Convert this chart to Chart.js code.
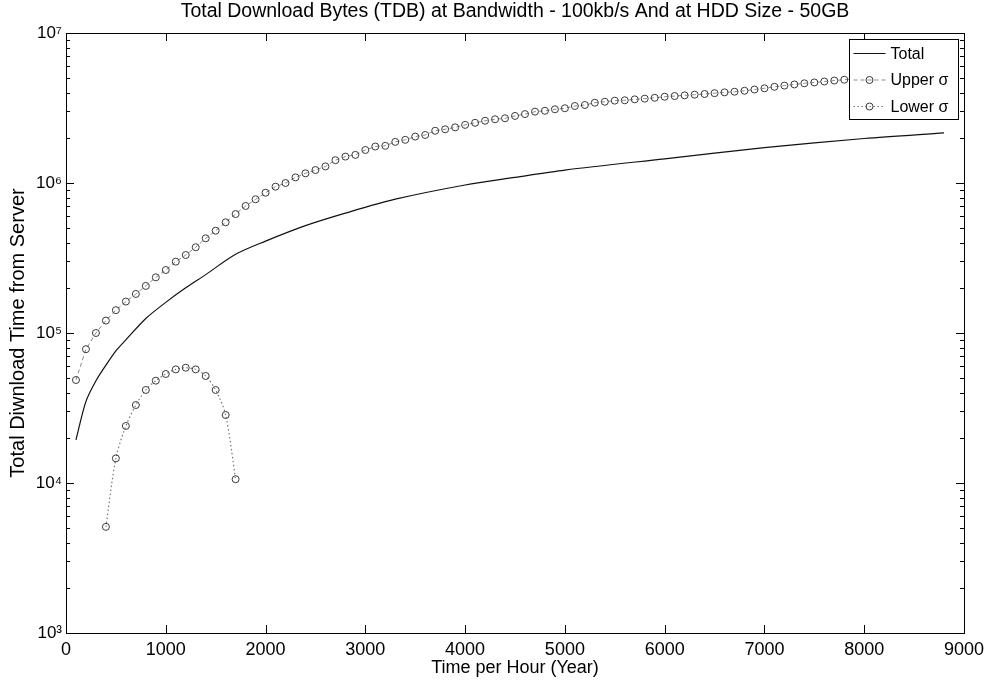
<!DOCTYPE html>
<html>
<head>
<meta charset="utf-8">
<title>Total Download Bytes (TDB)</title>
<script src="https://cdn.jsdelivr.net/npm/chart.js@4/dist/chart.umd.min.js"></script>
<style>
    html, body { margin: 0; padding: 0; background: #fff; }
    canvas { display: block; }
</style>
</head>
<body>
<canvas id="tdb-chart" width="996" height="684"></canvas>
<script>
// TDB chart — bandwidth 100kb/s, HDD 50GB
// values (log y axis)

const TITLE = "Total Download Bytes (TDB) at Bandwidth - 100kb/s And at HDD Size - 50GB";
const X_TITLE = "Time per Hour (Year)";
const Y_TITLE = "Total Diwnload Time from Server";

const X_TICKS = [0, 1000, 2000, 3000, 4000, 5000, 6000, 7000, 8000, 9000];
const Y_TICKS = [1e3, 1e4, 1e5, 1e6, 1e7];
const Y_TICK_LABELS = ["10³", "10⁴", "10⁵", "10⁶", "10⁷"];

// Total (solid line)
const TOTAL_HOURS = [100, 200, 300, 400, 500, 600, 800, 1000, 1200, 1400, 1700, 2000,
    2400, 2800, 3300, 4000, 4500, 5000, 6000, 7000, 8000, 8800];
const TOTAL_VALUES = [1.94e4, 3.5e4, 4.8e4, 6.1e4, 7.6e4, 9.0e4, 1.25e5, 1.6e5, 2.0e5, 2.45e5, 3.35e5, 4.1e5,
    5.2e5, 6.3e5, 7.8e5, 9.7e5, 1.09e6, 1.22e6, 1.45e6, 1.72e6, 1.98e6, 2.16e6];

// Upper sigma (dashed + circles)
const UPPER_HOURS = [100, 200, 300, 400, 500, 600, 700, 800, 900, 1000,
    1100, 1200, 1300, 1400, 1500, 1600, 1700, 1800, 1900, 2000,
    2100, 2200, 2300, 2400, 2500, 2600, 2700, 2800, 2900, 3000,
    3100, 3200, 3300, 3400, 3500, 3600, 3700, 3800, 3900, 4000,
    4100, 4200, 4300, 4400, 4500, 4600, 4700, 4800, 4900, 5000,
    5100, 5200, 5300, 5400, 5500, 5600, 5700, 5800, 5900, 6000,
    6100, 6200, 6300, 6400, 6500, 6600, 6700, 6800, 6900, 7000,
    7100, 7200, 7300, 7400, 7500, 7600, 7700, 7800, 7900, 8000,
    8100, 8200, 8300, 8400, 8500, 8600, 8700, 8800];
const UPPER_VALUES = [4.86e4, 7.8e4, 1.0e5, 1.21e5, 1.42e5, 1.62e5, 1.82e5, 2.06e5, 2.35e5, 2.63e5,
    2.99e5, 3.31e5, 3.73e5, 4.28e5, 4.81e5, 5.47e5, 6.21e5, 7.03e5, 7.79e5, 8.61e5,
    9.45e5, 1.0e6, 1.09e6, 1.16e6, 1.22e6, 1.29e6, 1.42e6, 1.5e6, 1.54e6, 1.66e6,
    1.75e6, 1.77e6, 1.88e6, 1.94e6, 2.04e6, 2.09e6, 2.23e6, 2.28e6, 2.35e6, 2.44e6,
    2.52e6, 2.6e6, 2.66e6, 2.7e6, 2.8e6, 2.88e6, 2.99e6, 3.03e6, 3.1e6, 3.15e6,
    3.26e6, 3.31e6, 3.43e6, 3.48e6, 3.54e6, 3.56e6, 3.61e6, 3.65e6, 3.70e6, 3.76e6,
    3.80e6, 3.84e6, 3.88e6, 3.92e6, 3.97e6, 4.02e6, 4.06e6, 4.12e6, 4.20e6, 4.28e6,
    4.38e6, 4.46e6, 4.54e6, 4.62e6, 4.68e6, 4.75e6, 4.82e6, 4.88e6, 4.95e6, 5.02e6,
    5.08e6, 5.14e6, 5.2e6, 5.26e6, 5.32e6, 5.38e6, 5.44e6, 5.5e6];

// Lower sigma (dotted + circles)
const LOWER_HOURS = [400, 500, 600, 700, 800, 900, 1000, 1100, 1200, 1300, 1400, 1500, 1600, 1700];
const LOWER_VALUES = [5.1e3, 1.46e4, 2.4e4, 3.31e4, 4.17e4, 4.81e4, 5.33e4, 5.72e4, 5.87e4, 5.72e4,
    5.17e4, 4.17e4, 2.84e4, 1.06e4];

const FONT = "'Liberation Sans', Arial, Helvetica, sans-serif";

function toPoints(xs, ys) {
    return xs.map((x, i) => ({ x: x, y: ys[i] }));
}

// ------------------------------------------------------------
// matlab style box, inward ticks, boxed legend
// ------------------------------------------------------------
const matlabFrame = {
    id: "matlabFrame",
    afterDatasetsDraw(chart) {
        const { ctx, chartArea: a, scales: { x, y } } = chart;
        const line = (x1, y1, x2, y2) => {
            ctx.beginPath();
            ctx.moveTo(x1, y1);
            ctx.lineTo(x2, y2);
            ctx.stroke();
        };
        ctx.save();
        ctx.strokeStyle = "#000";
        ctx.lineWidth = 1;
        ctx.strokeRect(Math.round(a.left) + 0.5, Math.round(a.top) + 0.5,
            Math.round(a.width), Math.round(a.height));

        X_TICKS.forEach(v => {
            const px = Math.round(x.getPixelForValue(v)) + 0.5;
            line(px, a.bottom, px, a.bottom - 8);
            line(px, a.top, px, a.top + 8);
        });
        for (let d = 0; d < Y_TICKS.length; d++) {
            const base = Y_TICKS[d];
            const py = Math.round(y.getPixelForValue(base)) + 0.5;
            line(a.left, py, a.left + 8, py);
            line(a.right, py, a.right - 8, py);
            if (d === Y_TICKS.length - 1) break;
            for (let m = 2; m <= 9; m++) {
                const my = Math.round(y.getPixelForValue(base * m)) + 0.5;
                line(a.left, my, a.left + 4, my);
                line(a.right, my, a.right - 4, my);
            }
        }

        // legend box
        const bw = 109, bh = 80;
        const bx = Math.round(a.right - bw - 6) + 0.5;
        const by = Math.round(a.top + 6) + 0.5;
        ctx.fillStyle = "#fff";
        ctx.fillRect(bx, by, bw, bh);
        ctx.strokeRect(bx, by, bw, bh);

        ctx.font = "16px " + FONT;
        ctx.textBaseline = "middle";
        ctx.textAlign = "left";
        chart.data.datasets.forEach((ds, i) => {
            const ry = by + 14 + i * 26.5;
            ctx.strokeStyle = ds.borderColor;
            ctx.lineWidth = ds.borderWidth;
            ctx.setLineDash(ds.borderDash || []);
            line(bx + 4, ry, bx + 36, ry);
            ctx.setLineDash([]);
            if (ds.pointRadius > 0) {
                ctx.strokeStyle = ds.pointBorderColor;
                ctx.lineWidth = 1;
                ctx.beginPath();
                ctx.arc(bx + 20, ry, ds.pointRadius, 0, Math.PI * 2);
                ctx.stroke();
            }
            ctx.fillStyle = "#000";
            ctx.fillText(ds.label, bx + 41, ry + 1);
        });
        ctx.restore();
    },
};

new Chart(document.getElementById("tdb-chart"), {
    type: "scatter",
    data: {
        datasets: [
            {
                label: "Total",
                data: toPoints(TOTAL_HOURS, TOTAL_VALUES),
                showLine: true,
                borderColor: "#111",
                borderWidth: 1.2,
                pointRadius: 0,
                tension: 0.3,
            },
            {
                label: "Upper σ",
                data: toPoints(UPPER_HOURS, UPPER_VALUES),
                showLine: true,
                borderColor: "#8a8a8a",
                borderWidth: 1,
                borderDash: [4, 3],
                pointRadius: 3.5,
                pointBorderWidth: 1,
                pointBorderColor: "#3a3a3a",
                pointBackgroundColor: "rgba(255,255,255,0)",
            },
            {
                label: "Lower σ",
                data: toPoints(LOWER_HOURS, LOWER_VALUES),
                showLine: true,
                borderColor: "#777",
                borderWidth: 1.2,
                borderDash: [1.5, 2.5],
                pointRadius: 3.5,
                pointBorderWidth: 1,
                pointBorderColor: "#3a3a3a",
                pointBackgroundColor: "rgba(255,255,255,0)",
                tension: 0.3,
            },
        ],
    },
    options: {
        responsive: false,
        animation: false,
        layout: { padding: { left: 0, right: 32, top: 0, bottom: 0 } },
        plugins: {
            legend: { display: false },
            tooltip: { enabled: false },
            title: {
                display: true,
                text: TITLE,
                fullSize: false,
                color: "#000",
                font: { family: FONT, size: 19.5, weight: "normal", lineHeight: 1.2 },
                padding: { top: 0, bottom: 9.6 },
            },
        },
        scales: {
            x: {
                type: "linear",
                min: 0,
                max: 9000,
                afterBuildTicks: s => { s.ticks = X_TICKS.map(v => ({ value: v })); },
                afterFit: s => { s.height = 51; },
                grid: { display: false, drawTicks: false },
                border: { display: false },
                ticks: {
                    color: "#000",
                    padding: 6,
                    maxRotation: 0,
                    font: { family: FONT, size: 18 },
                    callback: v => String(v),
                },
                title: {
                    display: true,
                    text: X_TITLE,
                    color: "#000",
                    padding: { top: 0, bottom: 5 },
                    font: { family: FONT, size: 18 },
                },
            },
            y: {
                type: "logarithmic",
                min: 1e3,
                max: 1e7,
                afterBuildTicks: s => { s.ticks = Y_TICKS.map(v => ({ value: v, major: true })); },
                afterFit: s => { s.width = 66; },
                grid: { display: false, drawTicks: false },
                border: { display: false },
                ticks: {
                    color: "#000",
                    padding: 4,
                    font: { family: FONT, size: 17 },
                    callback: v => Y_TICK_LABELS[Y_TICKS.indexOf(v)] ?? "",
                },
                title: {
                    display: true,
                    text: Y_TITLE,
                    color: "#000",
                    padding: { top: 6, bottom: 0 },
                    font: { family: FONT, size: 20 },
                },
            },
        },
    },
    plugins: [matlabFrame],
});
</script>
</body>
</html>
